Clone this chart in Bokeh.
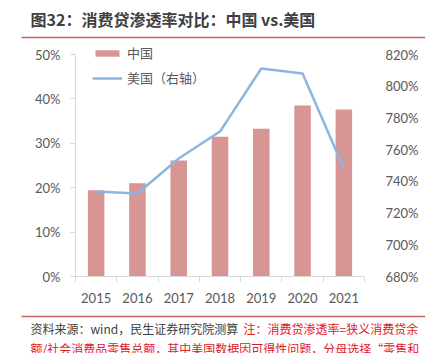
from bokeh.plotting import figure
from bokeh.layouts import column
from bokeh.models import (Range1d, LinearAxis, FixedTicker, PrintfTickFormatter,
                          Legend, LegendItem, ColumnDataSource)
from bokeh.core.properties import value
from bokeh.embed import file_html
from bokeh.resources import INLINE

years = [2015, 2016, 2017, 2018, 2019, 2020, 2021]
china = [19.4, 21.0, 26.1, 31.5, 33.3, 38.5, 37.6]
usa = [733.6, 732.3, 754.4, 771.4, 811.2, 808.0, 748.1]
left_ticks = [0, 10, 20, 30, 40, 50]
right_ticks = [680, 700, 720, 740, 760, 780, 800, 820]
year_bounds = [y - 0.5 for y in years] + [years[-1] + 0.5]

title_text = "图32：消费贷渗透率对比：中国 vs.美国"
source_text = "资料来源：wind，民生证券研究院测算"
note_text1 = "注：消费贷渗透率=狭义消费贷余"
note_text2 = "额/社会消费品零售总额，其中美国数据因可得性问题，分母选择“零售和"

CJK = "Noto Sans CJK SC"
NUM = "Lato"
GRAY = "#595959"
RULE = "#C9605C"
W = 425


def blank_fig(height, top, bottom):
    f = figure(width=W, height=height, output_backend="svg", toolbar_location=None,
               x_range=Range1d(0, W), y_range=Range1d(bottom, top),
               x_axis_type=None, y_axis_type=None, min_border=0,
               outline_line_color=None, background_fill_color="white",
               border_fill_color="white", frame_align=False)
    f.xgrid.visible = False
    f.ygrid.visible = False
    return f


# ---------- header ----------
head = blank_fig(40, 0, 40)
head.text(x=[30], y=[18], text=[title_text], text_font=value(CJK),
          text_font_size="16px", text_font_style="bold", text_color="#404040",
          text_baseline="middle", text_align="left")
head.segment(x0=[21], y0=[37], x1=[W], y1=[37], line_color=RULE, line_width=1.5)

# ---------- chart ----------
# frame spans 233 px; the 0..50 % part of the left axis spans 222 px
FRAME_H, AXIS_H = 233, 222
left_top = left_ticks[-1] * FRAME_H / AXIS_H
right_top = right_ticks[0] + (right_ticks[-1] - right_ticks[0]) * FRAME_H / AXIS_H

src = ColumnDataSource(dict(year=years, china=china, usa=usa))

p = figure(width=W, height=272, output_backend="svg", toolbar_location=None,
           x_range=Range1d(years[0] - 0.5, years[-1] + 0.5),
           y_range=Range1d(left_ticks[0], left_top),
           min_border_left=75, min_border_right=61, min_border_top=3,
           min_border_bottom=36, outline_line_color=None,
           background_fill_color="white", border_fill_color="white",
           frame_align=False)
p.extra_y_ranges = {"right": Range1d(right_ticks[0], right_top)}

bars = p.vbar(x="year", top="china", width=0.4, source=src,
              fill_color="#D79593", line_color=None)
line = p.line(x="year", y="usa", source=src, y_range_name="right",
              line_color="#8EB4E3", line_width=2.5)

p.xgrid.visible = False
p.ygrid.visible = False

xa = p.xaxis[0]
xa.ticker = FixedTicker(ticks=years, minor_ticks=year_bounds)
xa.major_tick_line_color = None
xa.major_tick_out = 0
xa.major_tick_in = 0
xa.minor_tick_line_color = "#d9d9d9"
xa.minor_tick_out = 6
xa.minor_tick_in = 0
xa.axis_line_color = "#d9d9d9"
xa.major_label_text_font = NUM
xa.major_label_text_font_size = "13px"
xa.major_label_text_color = GRAY
xa.major_label_standoff = 10

ya = p.yaxis[0]
ya.ticker = FixedTicker(ticks=left_ticks)
ya.bounds = (left_ticks[0], left_ticks[-1])
ya.formatter = PrintfTickFormatter(format="%d%%")
ya.minor_tick_line_color = None
ya.major_tick_line_color = "#d9d9d9"
ya.major_tick_out = 5
ya.major_tick_in = 0
ya.axis_line_color = "#d9d9d9"
ya.major_label_text_font = NUM
ya.major_label_text_font_size = "13px"
ya.major_label_text_color = GRAY
ya.major_label_standoff = 10

ra = LinearAxis(y_range_name="right", ticker=FixedTicker(ticks=right_ticks),
                formatter=PrintfTickFormatter(format="%d%%"))
ra.axis_line_color = None
ra.major_tick_line_color = None
ra.minor_tick_line_color = None
ra.major_label_text_font = NUM
ra.major_label_text_font_size = "13px"
ra.major_label_text_color = GRAY
ra.major_label_standoff = 15
p.add_layout(ra, "right")

legend = Legend(items=[LegendItem(label="中国", renderers=[bars]),
                       LegendItem(label="美国（右轴）", renderers=[line])],
                location=(17, 189), margin=0, padding=0, spacing=6,
                glyph_width=30, glyph_height=8, label_height=14,
                label_standoff=5, border_line_color=None,
                background_fill_alpha=0,
                label_text_font=CJK, label_text_font_size="13px",
                label_text_color=GRAY)
p.add_layout(legend, "center")

# ---------- footer ----------
foot = blank_fig(41, 312, 353)
foot.segment(x0=[21], y0=[316], x1=[W], y1=[316], line_color=RULE, line_width=1.5)
foot.text(x=[30], y=[328], text=[source_text], text_font=value(CJK),
          text_font_size="12px", text_color="#404040", text_baseline="middle")
foot.text(x=[243], y=[328], text=[note_text1], text_font=value(CJK),
          text_font_size="12px", text_color="#E0201F", text_baseline="middle")
foot.text(x=[30], y=[348], text=[note_text2], text_font=value(CJK),
          text_font_size="12px", text_color="#E0201F", text_baseline="middle")

layout = column(head, p, foot, spacing=0)
open("out.html", "w").write(file_html(layout, INLINE))
